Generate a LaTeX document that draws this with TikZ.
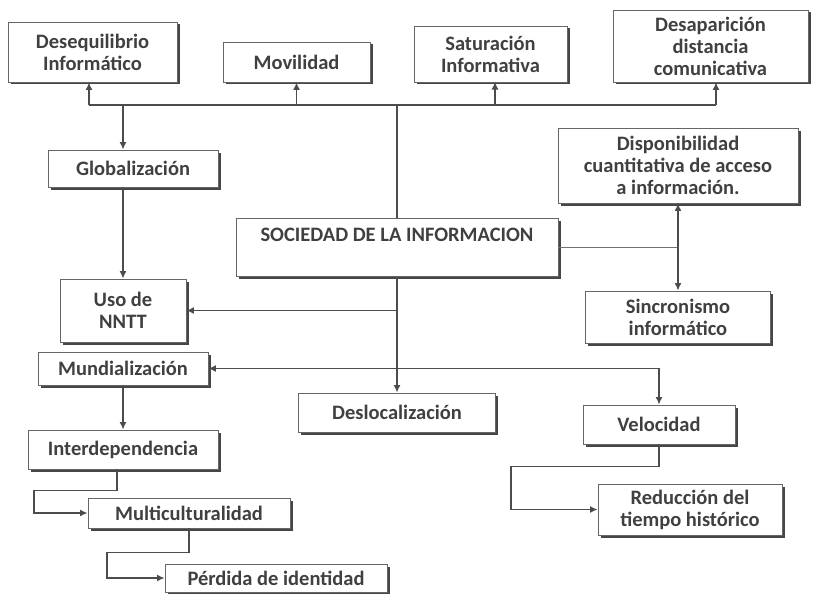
\documentclass[tikz,border=0pt]{standalone}
\usepackage{fontspec}
\setmainfont{Carlito}
\usetikzlibrary{arrows.meta,shadows}

\begin{document}
\begin{tikzpicture}[x=1pt,y=-1pt]%
  \tikzstyle{caja}=[rectangle,draw=gray!80!black,line width=0.9pt,fill=white,
    drop shadow={shadow xshift=2.5pt,shadow yshift=-2.5pt,fill=gray!55!black,opacity=1},
    align=center,inner sep=3pt,text=black!75,
    font=\fontsize{20.5}{22}\selectfont\bfseries]
  \tikzstyle{linea}=[draw=black!70,line width=1.3pt]
  \tikzstyle{flecha}=[linea,-{Latex[length=7.5pt,width=7pt]}]
  \tikzstyle{doble}=[linea,{Latex[length=7.5pt,width=7pt]}-{Latex[length=7.5pt,width=7pt]}]
  \useasboundingbox (0,0) rectangle (814,594);
  % fila de arriba
  \node(deseq)[caja,minimum width=169pt,minimum height=60pt] at (92.5,52) {Desequilibrio\\Informático};
  \node(movil)[caja,minimum width=147pt,minimum height=40pt] at (296.5,62) {Movilidad};
  \node(satur)[caja,minimum width=153pt,minimum height=56pt] at (490.5,54) {Saturación\\Informativa};
  \node(desap)[caja,minimum width=195pt,minimum height=72pt] at (710.5,46) {Desaparición\\distancia\\comunicativa};
  % centro
  \node(glob)[caja,minimum width=170pt,minimum height=37pt] at (133,168.5) {Globalización};
  \node(dispon)[caja,minimum width=240pt,minimum height=75pt] at (678,165.5) {Disponibilidad\\cuantitativa de acceso\\a información.};
  \node(soc)[caja,anchor=north,minimum width=322pt,text height=20pt,text depth=32pt] at (397,218) {SOCIEDAD DE LA INFORMACION};
  \node(uso)[caja,minimum width=126pt,minimum height=63pt] at (123,310.5) {Uso de\\NNTT};
  \node(sincr)[caja,minimum width=185pt,minimum height=52pt] at (678,317) {Sincronismo\\informático};
  \node(mund)[caja,minimum width=170pt,minimum height=33pt] at (123,368.5) {Mundialización};
  \node(desloc)[caja,minimum width=197pt,minimum height=39pt] at (397,412.5) {Deslocalización};
  \node(veloc)[caja,minimum width=152pt,minimum height=39pt] at (659,424.5) {Velocidad};
  % abajo
  \node(inter)[caja,minimum width=190pt,minimum height=39pt] at (123,449.5) {Interdependencia};
  \node(multi)[caja,minimum width=202pt,minimum height=30pt] at (189,513) {Multiculturalidad};
  \node(perd)[caja,minimum width=222pt,minimum height=28pt] at (276,578) {Pérdida de identidad};
  \node(reduc)[caja,minimum width=184pt,minimum height=51pt] at (690,509.5) {Reducción del\\tiempo histórico};
  % bus de arriba
  \coordinate(busL) at (89,105);
  \coordinate(busR) at (716,105);
  \draw[linea] (busL) -- (busR);
  \draw[flecha] (busL) -- (busL |- deseq.south);
  \draw[flecha] (movil.south |- busL) -- (movil.south);
  \draw[flecha] (495,105) -- (495,82);
  \draw[flecha] (busR) -- (busR |- desap.south);
  \draw[linea] (soc.north) -- (soc.north |- busL);
  \draw[flecha] (uso.north |- busL) -- (uso.north |- glob.north);
  \draw[flecha] (uso.north |- glob.south) -- (uso.north);
  % desde sociedad
  \draw[flecha] (soc.south) -- (desloc.north);
  \draw[flecha] (soc.south |- uso.east) -- (uso.east);
  \draw[doble] (mund.east) -| (veloc.north);
  \draw[draw=black!55,line width=0.8pt] (soc.east) -- (soc.east -| sincr.north);
  \draw[doble] (dispon.south -| sincr.north) -- (sincr.north);
  % cadenas
  \draw[flecha] (mund.south) -- (inter.north);
  \draw[flecha] ([xshift=-6pt]inter.south) -- ++(0,21) -- ++(-83,0) |- (multi.west);
  \draw[flecha] (multi.south) -- ++(0,24) -- ++(-82,0) |- (perd.west);
  \draw[flecha] (veloc.south) -- ++(0,22) -- ++(-148,0) |- (reduc.west);
\end{tikzpicture}
\end{document}
